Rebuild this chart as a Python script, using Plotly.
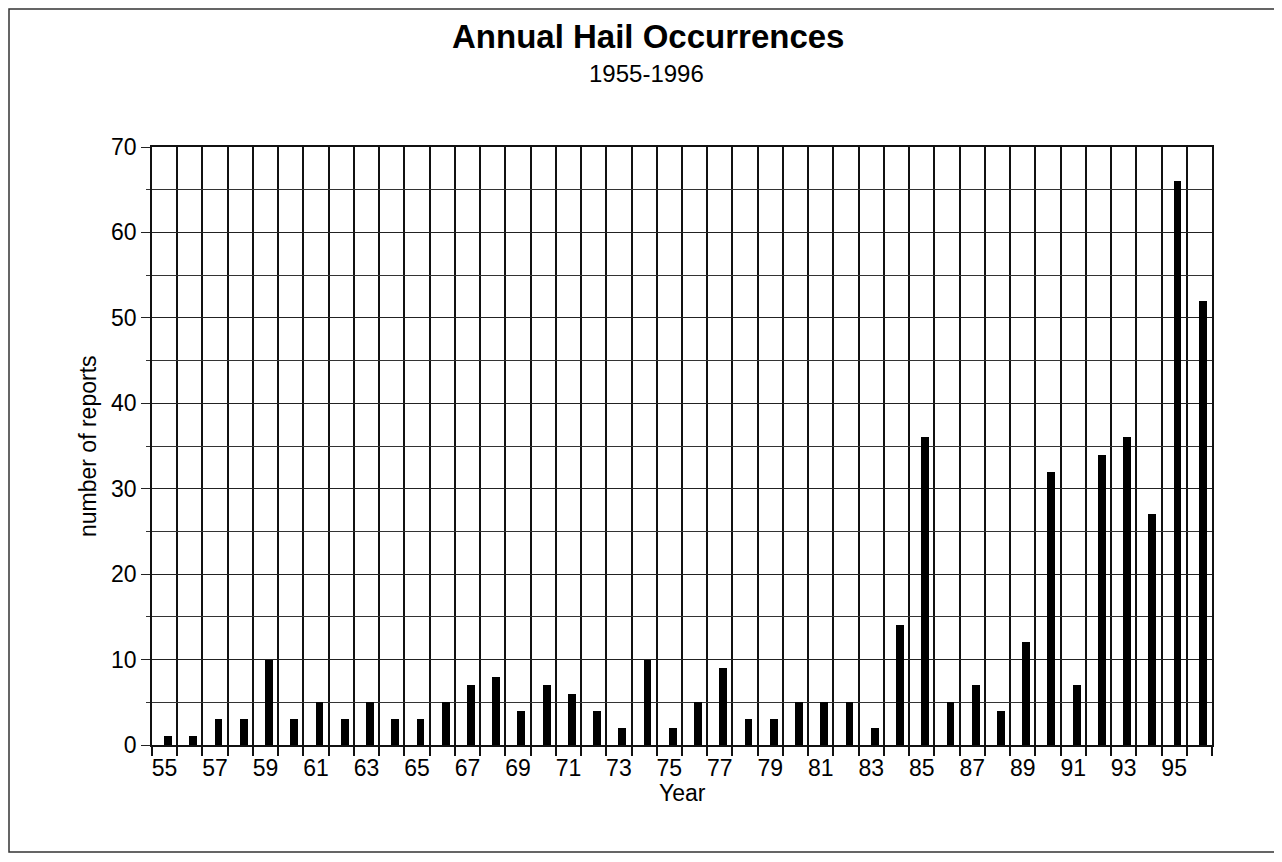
import plotly.graph_objects as go

# ---- data ----
years = [55, 56, 57, 58, 59, 60, 61, 62, 63, 64, 65, 66, 67, 68,
         69, 70, 71, 72, 73, 74, 75, 76, 77, 78, 79, 80, 81, 82,
         83, 84, 85, 86, 87, 88, 89, 90, 91, 92, 93, 94, 95, 96]
reports = [1, 1, 3, 3, 10, 3, 5, 3, 5, 3, 3, 5, 7, 8,
           4, 7, 6, 4, 2, 10, 2, 5, 9, 3, 3, 5, 5, 5,
           2, 14, 36, 5, 7, 4, 12, 32, 7, 34, 36, 27, 66, 52]
label_years = [55, 57, 59, 61, 63, 65, 67, 69, 71, 73, 75, 77, 79,
               81, 83, 85, 87, 89, 91, 93, 95]
label_text = ["55", "57", "59", "61", "63", "65", "67", "69", "71", "73", "75",
              "77", "79", "81", "83", "85", "87", "89", "91", "93", "95"]
y_ticks = [0, 10, 20, 30, 40, 50, 60, 70]

FONT = "Liberation Sans, Arial, Helvetica, sans-serif"
OFF = 8                      # page body margin of the html page
W, H = 1274, 846
L, T = 144, 139
PW, PH = 1060, 598
R, B = W - L - PW, H - T - PH


def px(xp):  # page pixel -> paper x
    return (xp - OFF - L) / PW


def py(yp):  # page pixel -> paper y
    return (OFF + T + PH - yp) / PH


fig = go.Figure()
fig.add_trace(go.Bar(
    x=years, y=reports,
    width=0.31, offset=-0.02,
    marker=dict(color="#000000", line=dict(width=0)),
))

fig.update_layout(
    width=W, height=H, autosize=False,
    margin=dict(l=L, r=R, t=T, b=B, pad=0),
    paper_bgcolor="white", plot_bgcolor="white",
    showlegend=False,
    font=dict(family=FONT, color="#000000", size=23),
    bargap=0,
)

fig.update_xaxes(
    range=[54.5, 96.5],
    tickmode="array", tickvals=label_years, ticktext=label_text,
    ticks="outside", ticklen=2, tickcolor="rgba(0,0,0,0)",
    tickfont=dict(family=FONT, size=23, color="#000000"),
    showgrid=False, zeroline=False,
    showline=True, linecolor="#111111", linewidth=1.7, mirror=True,
    minor=dict(tick0=54.5, dtick=1, ticks="outside", ticklen=9,
               tickcolor="#111111", tickwidth=1.7,
               showgrid=True, gridcolor="#111111", gridwidth=1.7),
)

fig.update_yaxes(
    range=[0, 70],
    tickmode="array", tickvals=y_ticks,
    ticks="outside", ticklen=9, tickcolor="#222222", tickwidth=1.4,
    tickfont=dict(family=FONT, size=23, color="#000000"),
    showgrid=True, gridcolor="#222222", gridwidth=1.4,
    zeroline=False,
    showline=True, linecolor="#111111", linewidth=1.7, mirror=True,
    minor=dict(dtick=5, ticks="outside", ticklen=4,
               tickcolor="#333333", tickwidth=1.3,
               showgrid=True, gridcolor="#333333", gridwidth=1.3),
)

fig.update_layout(annotations=[
    dict(text="<b>Annual Hail Occurrences</b>", xref="paper", yref="paper",
         x=px(648), y=py(37), xanchor="center", yanchor="middle",
         showarrow=False, font=dict(family=FONT, size=33, color="#000000")),
    dict(text="1955-1996", xref="paper", yref="paper",
         x=px(646), y=py(73), xanchor="center", yanchor="middle",
         showarrow=False, font=dict(family=FONT, size=24, color="#000000")),
    dict(text="Year", xref="paper", yref="paper",
         x=px(682), y=py(793), xanchor="center", yanchor="middle",
         showarrow=False, font=dict(family=FONT, size=23, color="#000000")),
    dict(text="number of reports", xref="paper", yref="paper",
         x=px(88), y=py(446), xanchor="center", yanchor="middle", textangle=-90,
         showarrow=False, font=dict(family=FONT, size=23, color="#000000")),
])

# outer frame of the figure
fig.add_shape(type="rect", xref="paper", yref="paper",
              x0=px(9), x1=px(1279), y0=py(852), y1=py(9),
              line=dict(color="#333333", width=1.5), layer="below")

fig.write_html("out.html")
